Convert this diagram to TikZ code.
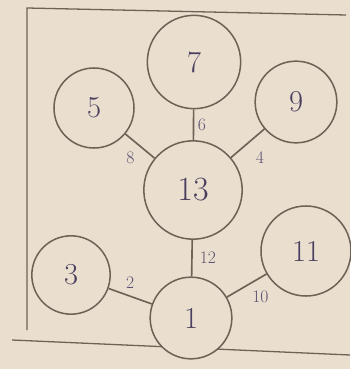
\documentclass[tikz,border=0pt]{standalone}
\usepackage{tikz}
\usetikzlibrary{arrows.meta,positioning,calc}
\definecolor{SKPaper}{HTML}{EADFCF}
\definecolor{SKPencil}{HTML}{6E6257}
\definecolor{SKInk}{HTML}{4A3F5E}
\definecolor{SKInkSoft}{HTML}{5C5070}
\tikzset{
  vertex/.style={circle,draw=SKPencil,line width=1.3pt,fill=SKPaper,
                 text=SKInk,font=\fontsize{26}{30}\selectfont,inner sep=0pt},
  edge/.style={SKPencil,line width=1.4pt},
  weight/.style={text=SKInkSoft,font=\fontsize{15}{17}\selectfont,inner sep=2pt},
  frame/.style={SKPencil,line width=1.1pt},
}

\begin{document}
\begin{tikzpicture}[x=.03cm,y=-.03cm]
  \fill[SKPaper] (0,0) rectangle (350,369);
  \useasboundingbox (0,0) rectangle (350,369);

  % the sheet outline
  \draw[frame] (27,330) -- (27,8) -- (346,15);
  \draw[frame] (12,340) -- (350,355);

  % vertices
  \node[vertex,minimum size=2.8cm] (n7) at (194,62) {7};
  \node[vertex,minimum size=2.4cm] (n5) at (94,108) {5};
  \node[vertex,minimum size=2.45cm] (n9) at (296,102) {9};
  \node[vertex,minimum size=2.95cm,font=\fontsize{29}{32}\selectfont] (n13) at (193,190) {13};
  \node[vertex,minimum size=2.35cm] (n3) at (71,275) {3};
  \node[vertex,minimum size=2.45cm] (n1) at (191,318) {1};
  \node[vertex,minimum size=2.7cm] (n11) at (306,251) {11};

  % edges with their weights
  \draw[edge] (n13) -- (n7) node[weight,midway,right=1pt] {6};
  \draw[edge] (n13) -- (n5) node[weight,midway,below left=3pt] {8};
  \draw[edge] (n13) -- (n9) node[weight,midway,below right=6pt] {4};
  \draw[edge] (n13) -- (n1) node[weight,midway,right=4pt] {12};
  \draw[edge] (n1) -- (n3) node[weight,midway,above=4pt] {2};
  \draw[edge] (n1) -- (n11) node[weight,midway,below right=3pt] {10};
\end{tikzpicture}
\end{document}
